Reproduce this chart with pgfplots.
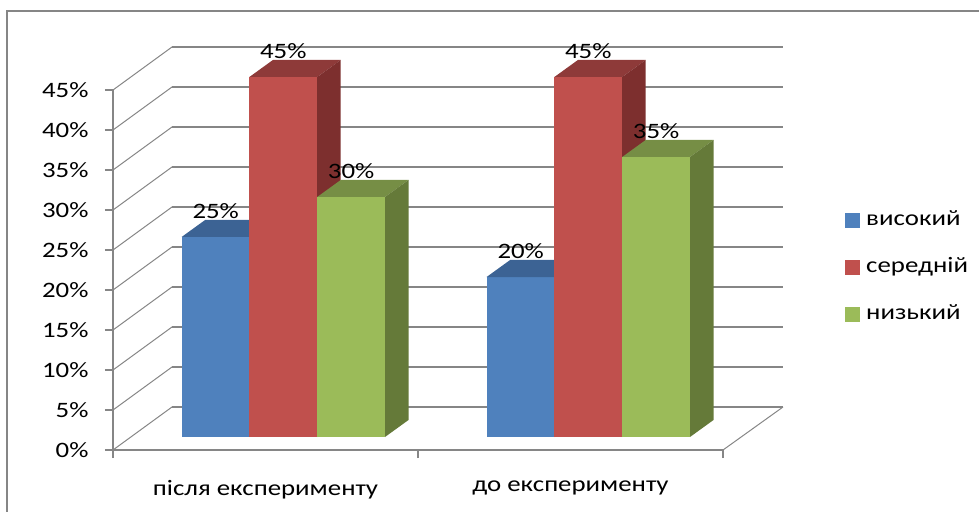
\documentclass[border=0pt]{standalone}
\usepackage{pgfplots}
\pgfplotsset{compat=1.18}
\usepackage{pgfplotstable}
\usepackage{fontspec}
\setmainfont{Carlito}[FakeStretch=1.22]
\definecolor{gridgray}{RGB}{134,134,134}
\definecolor{bFront}{RGB}{79,129,189}
\definecolor{bTop}{RGB}{60,99,148}
\definecolor{bSide}{RGB}{52,86,128}
\definecolor{rFront}{RGB}{192,80,77}
\definecolor{rTop}{RGB}{142,58,57}
\definecolor{rSide}{RGB}{125,47,46}
\definecolor{gFront}{RGB}{155,187,89}
\definecolor{gTop}{RGB}{118,142,69}
\definecolor{gSide}{RGB}{101,122,57}

\pgfplotstableread{
cat vys ser niz
0.5 25 45 30
1.5 20 45 35
}\datatable

% 3D bar drawn as a plot mark at the data point (category centre, value)
\newcommand\defbarmark[5]{%
 \pgfdeclareplotmark{#1}{%
   \pgfmathsetmacro\bh{8*\barval}%
   \pgfmathsetmacro\bl{#2+17.8-33.9}%
   \pgfmathsetmacro\br{#2+17.8+33.9}%
   \pgfsetfillcolor{#3}%
   \pgfpathrectanglecorners{\pgfpoint{\bl bp}{13bp-\bh bp}}{\pgfpoint{\br bp}{13bp}}%
   \pgfusepath{fill}%
   \pgfsetfillcolor{#4}%
   \pgfpathmoveto{\pgfpoint{\bl bp}{13bp}}%
   \pgfpathlineto{\pgfpoint{\br bp}{13bp}}%
   \pgfpathlineto{\pgfpoint{\br bp+23.5bp}{30bp}}%
   \pgfpathlineto{\pgfpoint{\bl bp+23.5bp}{30bp}}%
   \pgfpathclose\pgfusepath{fill}%
   \pgfsetfillcolor{#5}%
   \pgfpathmoveto{\pgfpoint{\br bp}{13bp-\bh bp}}%
   \pgfpathlineto{\pgfpoint{\br bp+23.5bp}{30bp-\bh bp}}%
   \pgfpathlineto{\pgfpoint{\br bp+23.5bp}{30bp}}%
   \pgfpathlineto{\pgfpoint{\br bp}{13bp}}%
   \pgfpathclose\pgfusepath{fill}%
 }}
\defbarmark{barA}{-67.8}{bFront}{bTop}{bSide}
\defbarmark{barB}{0}{rFront}{rTop}{rSide}
\defbarmark{barC}{67.8}{gFront}{gTop}{gSide}

\begin{document}
\begin{tikzpicture}
\begin{axis}[
  at={(0,0)}, anchor=origin,
  scale only axis, width=610bp, height=360bp,
  xmin=0, xmax=2, ymin=0, ymax=45,
  clip=false,
  axis x line=bottom, axis y line=left,
  axis line style={-, color=gridgray, line width=1.2bp},
  tick style={color=gridgray, line width=1.2bp},
  tick align=outside,
  major tick length=8bp,
  xtick={0,1,2}, xticklabels={},
  extra x ticks={0.5,1.5},
  extra x tick labels={після експерименту, до експерименту},
  extra x tick style={major tick length=0pt, xticklabel style={yshift=-27bp}},
  ytick={0,5,...,45},
  yticklabel={\pgfmathprintnumber{\tick}\%},
  yticklabel style={xshift=-13bp},
  /pgf/number format/assume math mode=true,
  font=\fontsize{22bp}{26bp}\selectfont,
  tick label style={font=\fontsize{22bp}{26bp}\selectfont},
  legend style={draw=none, fill=none, at={(1.2,0.506)}, anchor=west, inner sep=0pt,
     row sep=25bp, font=\fontsize{22bp}{26bp}\selectfont,
     nodes={inner sep=2bp, text height=14bp, text depth=4bp}},
  legend cell align=left,
  legend image code/.code={\fill[#1,draw=none] (0bp,-7.5bp) rectangle (15bp,7.5bp);},
  legend style={/tikz/every odd column/.append style={column sep=4bp}},
]
% back wall and floor
\pgfplotsinvokeforeach{0,5,10,15,20,25,30,35,40,45}{
  \draw[gridgray, line width=1bp] (axis cs:0,#1) -- ++(59bp,43bp);
  \draw[gridgray, line width=1.4bp] (axis cs:0,#1) ++(59bp,43bp) -- ++(611bp,0bp);
}
\draw[gridgray, line width=1bp] (axis cs:2,0) -- ++(60bp,43bp);

\addlegendimage{fill=bFront}
\addlegendentry{високий}
\addlegendimage{fill=rFront}
\addlegendentry{середній}
\addlegendimage{fill=gFront}
\addlegendentry{низький}

\addplot[only marks, mark=barA, forget plot, point meta=rawy,
  visualization depends on={rawy \as \barval},
  nodes near coords={\pgfmathprintnumber{\pgfplotspointmeta}\%},
  every node near coord/.append style={anchor=center, xshift=-49.8bp, yshift=39bp, text=black}]
  table[x=cat, y=vys]{\datatable};
\addplot[only marks, mark=barB, forget plot, point meta=rawy,
  visualization depends on={rawy \as \barval},
  nodes near coords={\pgfmathprintnumber{\pgfplotspointmeta}\%},
  every node near coord/.append style={anchor=center, xshift=17.8bp, yshift=39bp, text=black}]
  table[x=cat, y=ser]{\datatable};
\addplot[only marks, mark=barC, forget plot, point meta=rawy,
  visualization depends on={rawy \as \barval},
  nodes near coords={\pgfmathprintnumber{\pgfplotspointmeta}\%},
  every node near coord/.append style={anchor=center, xshift=85.6bp, yshift=39bp, text=black}]
  table[x=cat, y=niz]{\datatable};
\end{axis}
\draw[gridgray, line width=1.2bp] (-106bp,439bp) rectangle (950bp,-120bp);
\pgfresetboundingbox
\path[use as bounding box] (-113bp,-62bp) rectangle (866bp,450bp);
\end{tikzpicture}
\end{document}
